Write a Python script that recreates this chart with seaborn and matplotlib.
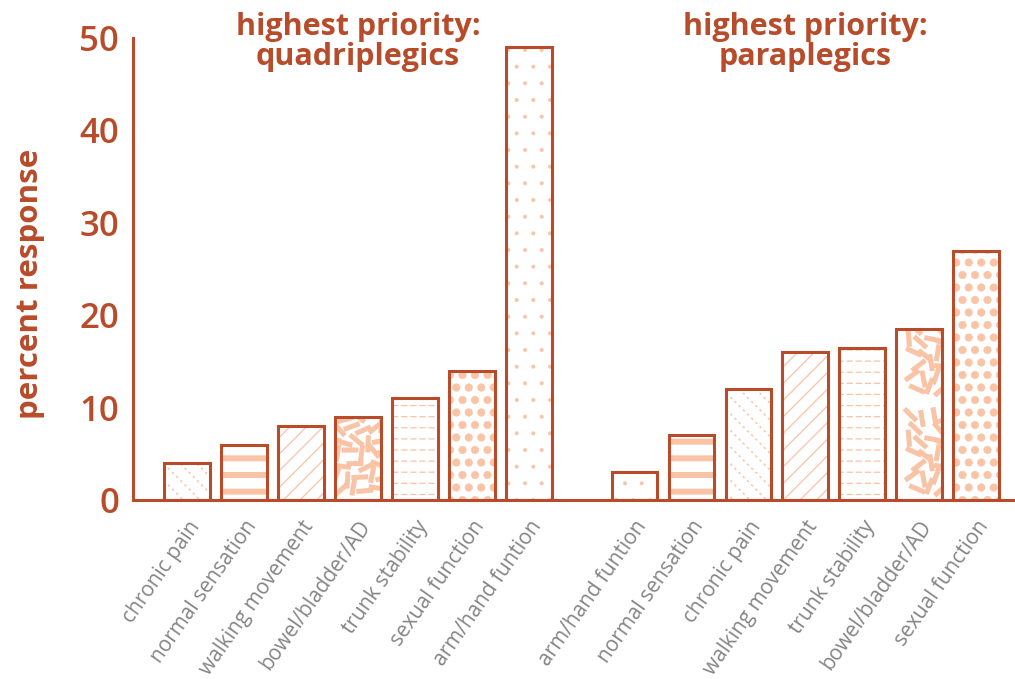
import numpy as np
import matplotlib
matplotlib.use('Agg')
import matplotlib.pyplot as plt
import matplotlib.hatch as mhatch
from matplotlib.path import Path
import seaborn as sns

# data
quad_labels = ['chronic pain', 'normal sensation', 'walking movement', 'bowel/bladder/AD',
               'trunk stability', 'sexual function', 'arm/hand funtion']
quad_values = [4, 6, 8, 9, 11, 14, 49]
para_labels = ['arm/hand funtion', 'normal sensation', 'chronic pain', 'walking movement',
               'trunk stability', 'bowel/bladder/AD', 'sexual function']
para_values = [3, 7, 12, 16, 16.5, 18.5, 27]
group_titles = ['highest priority:\nquadriplegics', 'highest priority:\nparaplegics']
y_ticks = [0, 10, 20, 30, 40, 50]

EDGE = '#b84b2a'
FILL = '#f9c3a6'
GRAY = '#858585'

# texture for each category: (hatch code, hatch linewidth)
textures = {
    'chronic pain': ('o', 1.1),
    'normal sensation': ('-', 4.3),
    'walking movement': ('//', 0.9),
    'bowel/bladder/AD': ('|', 3.6),
    'trunk stability': ('O', 0.9),
    'sexual function': ('*', 0.4),
    'arm/hand funtion': ('.', 0.4),
}


# --- custom hatch textures -------------------------------------------------
def dash_segments(n=46, half=0.06):
    i = np.arange(n)
    cx = 0.08 + 0.84 * ((0.5 + i * 0.7548776662) % 1)
    cy = 0.08 + 0.84 * ((0.5 + i * 0.5698402910) % 1)
    ang = ((i * i * 0.381966) % 1) * np.pi
    dx, dy = half * np.cos(ang), half * np.sin(ang)
    return np.column_stack([cx - dx, cy - dy, cx + dx, cy + dy])


def dashed_row_segments(rows=9, per_row=11, length=0.05):
    segs = []
    for r in range(rows):
        y = (r + 0.5) / rows
        for c in range(per_row):
            x0 = (c + 0.2) / per_row
            segs.append([x0, y, x0 + length, y])
    return np.array(segs)


def dotted_diag_segments(lines=6, steps=24, e=0.003):
    per = steps // lines
    segs = []
    for k in range(lines):
        for t in range(steps):
            x = (t + 0.5) / steps
            y = (((per * k - t - 1) % steps) + 0.5) / steps
            segs.append([x - e, y + e, x + e, y - e])
    return np.array(segs)


class SegmentHatch(mhatch.HatchPatternBase):
    char = '#'
    segments = np.empty((0, 4))

    def __init__(self, hatch, density):
        self.num_vertices = 2 * len(self.segments) if self.char in hatch else 0

    def set_vertices_and_codes(self, vertices, codes):
        vertices[0::2] = self.segments[:, :2]
        vertices[1::2] = self.segments[:, 2:]
        codes[0::2] = Path.MOVETO
        codes[1::2] = Path.LINETO


class RandomDashes(SegmentHatch):
    char = '|'
    segments = dash_segments()


class DashedRows(SegmentHatch):
    char = 'O'
    segments = dashed_row_segments()


class DottedDiagonals(SegmentHatch):
    char = 'o'
    segments = dotted_diag_segments()


class BigDots(mhatch.Circles):
    size = 0.3
    filled = True

    def __init__(self, hatch, density):
        self.num_rows = hatch.count('*') * 8
        super().__init__(hatch, density)


swap = {mhatch.VerticalHatch: RandomDashes, mhatch.SmallCircles: DottedDiagonals,
        mhatch.LargeCircles: DashedRows, mhatch.Stars: BigDots}
mhatch._hatch_types = [swap.get(t, t) for t in mhatch._hatch_types]

# --- plot -------------------------------------------------------------------
sns.set_style('white')
plt.rcParams['font.family'] = ['Open Sans', 'DejaVu Sans']
plt.rcParams['hatch.linewidth'] = 1.0

gap = 1.85
pos = np.concatenate([np.arange(7), np.arange(7) + 6 + gap])
labels = quad_labels + para_labels
values = quad_values + para_values

fig = plt.figure(figsize=(10.15, 6.79), dpi=100)
ax = fig.add_axes([133 / 1015, 1 - 500 / 679, 1 - 133 / 1015, (500 - 38) / 679])

# textured fill layer
sns.barplot(x=pos, y=values, native_scale=True, orient='x', width=0.8, color='white',
            saturation=1, errorbar=None, linewidth=0, ax=ax)
for p in list(ax.patches):
    c = p.get_x() + p.get_width() / 2
    i = int(np.argmin(np.abs(pos - c)))
    hatch, hlw = textures[labels[i]]
    p.set_hatch(hatch)
    p.set_edgecolor(FILL)
    p.set_linewidth(0)
    if hasattr(p, 'set_hatch_linewidth'):
        p.set_hatch_linewidth(hlw)

# outline layer
sns.barplot(x=pos, y=values, native_scale=True, orient='x', width=0.8, color=EDGE,
            saturation=1, errorbar=None, fill=False, linewidth=2.2, ax=ax)

ax.set_xlim(-0.947, 14.53)
ax.set_ylim(0, 50)
ax.set_xticks(pos)
ax.set_xticklabels(labels, rotation=55, ha='right', rotation_mode='anchor',
                   color=GRAY, fontsize=15)
ax.tick_params(axis='x', length=0, pad=12)
ax.set_yticks(y_ticks)
ax.tick_params(axis='y', direction='in', length=16, width=2.2, color=EDGE,
               labelcolor=EDGE, labelsize=25, pad=10)
for t in ax.get_yticklabels():
    t.set_fontweight('semibold')

sns.despine(ax=ax)
for side in ['left', 'bottom']:
    ax.spines[side].set_color(EDGE)
    ax.spines[side].set_linewidth(2.2)

ax.set_ylabel('percent response', fontsize=22.5, fontweight='bold', color=EDGE)
ax.yaxis.set_label_coords(-0.1, 0.468)

centers = [pos[:7].mean(), pos[7:].mean()]
for cx, title in zip(centers, group_titles):
    ax.text(cx, 49.6, title, ha='center', va='center', fontsize=22, fontweight='bold',
            color=EDGE, linespacing=1.0)

fig.savefig('out.png', dpi=100)
